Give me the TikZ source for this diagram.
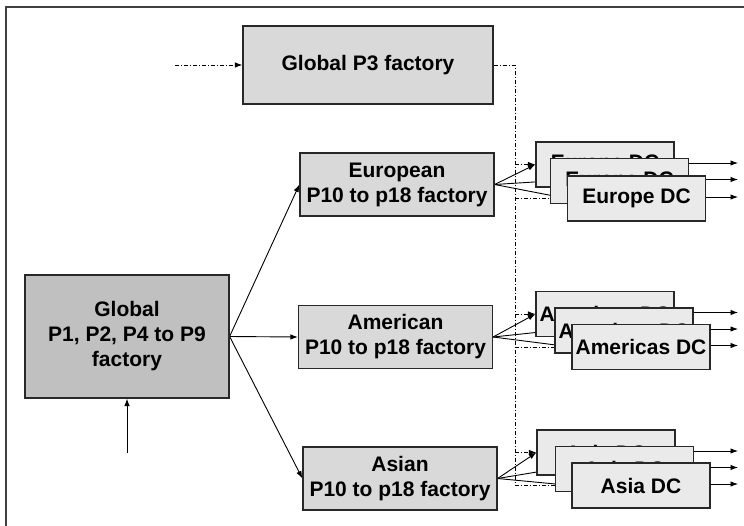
\documentclass[tikz,border=0pt]{standalone}
\usepackage{fontspec}
\setmainfont{Liberation Sans}
\usetikzlibrary{arrows.meta,backgrounds}
\definecolor{globfill}{RGB}{192,192,192}
\definecolor{factfill}{RGB}{217,217,217}
\definecolor{dcfill}{RGB}{234,234,234}
\definecolor{edge}{RGB}{40,40,40}
\tikzset{
  boxbase/.style={draw=edge, line width=1.2pt, inner sep=0pt, align=center,
    font=\fontsize{21}{25}\selectfont\bfseries},
  globbox/.style={boxbase, fill=globfill, minimum width=204pt, minimum height=123pt},
  factbox/.style={boxbase, fill=factfill, minimum width=194pt, minimum height=63pt},
  p3box/.style={boxbase, fill=factfill, minimum width=250pt, minimum height=78pt},
  dcbox/.style={boxbase, fill=dcfill, minimum width=138pt, minimum height=45pt},
  conn/.style={line width=0.9pt, -{Latex[length=7.5pt,width=5.5pt]}},
  dashdot/.style={line width=0.9pt, dash pattern=on 4pt off 2pt on 1pt off 2pt},
  dashconn/.style={dashdot, -{Latex[length=7.5pt,width=5.5pt]}},
  frame/.style={line width=1.5pt, draw=black!75}
}
\begin{document}
\begin{tikzpicture}[x=1pt,y=-1pt]
\useasboundingbox (0,0) rectangle (744,525);
% frame (top and left edges)
\coordinate (fbl) at (6,530);
\coordinate (ftl) at (6,7);
\coordinate (ftr) at (750,7);
\draw[frame] (fbl) -- (ftl) -- (ftr);

% boxes
\node[p3box] (p3) at (368,65) {Global P3 factory};
\node[globbox] (glob) at (127,336.5) {Global\\P1, P2, P4 to P9\\factory};
\node[factbox] (eur) at (397,184.5) {European\\P10 to p18 factory};
\node[factbox] (am) at (395.5,337) {American\\P10 to p18 factory};
\node[factbox] (as) at (400,478.5) {Asian\\P10 to p18 factory};

\node[dcbox] (eu1) at (605,164.5) {Europe DC};
\node[dcbox] (eu2) at (619.5,181) {Europe DC};
\node[dcbox] (eu3) at (636.5,198.5) {Europe DC};

\node[dcbox] (am1) at (605,314) {Americas DC};
\node[dcbox] (am2) at (624,330.5) {Americas DC};
\node[dcbox] (am3) at (641,347) {Americas DC};

\node[dcbox] (as1) at (606,452.5) {Asia DC};
\node[dcbox] (as2) at (624.5,469) {Asia DC};
\node[dcbox] (as3) at (641,485.5) {Asia DC};

% free-end coordinates
\coordinate (p3in) at (175,65);
\coordinate (globin) at (127,453);
\coordinate (outx) at (738,0);
\coordinate (vtop) at (515,65);
\coordinate (vbot) at (515,486);

\begin{scope}[on background layer]
  % input arrows
  \draw[dashconn] (p3in) -- (p3.west);
  \draw[conn] (globin) -- (glob.south);
  % global to regional factories
  \draw[conn] (glob.east) -- (eur.west);
  \draw[conn] (glob.east) -- (am.west);
  \draw[conn] (glob.east) -- (as.west);
  % regional factories to DCs
  \foreach \f/\a/\b/\c in {eur/eu1/eu2/eu3, am/am1/am2/am3, as/as1/as2/as3}{
    \draw[conn] (\f.east) -- (\a.west);
    \draw[conn] (\f.east) -- (\b.west);
    \draw[conn] (\f.east) -- (\c.west);
  }
  % P3 distribution (dash-dot)
  \draw[dashdot] (p3.east) -- (vtop) -- (vbot);
  \foreach \a/\c in {eu1/eu3, am1/am3, as1/as3}{
    \draw[dashconn] (vtop |- \a.west) -- (\a.west);
    \draw[dashconn] (vtop |- \c.west) -- (\c.west);
  }
  % outputs from DCs
  \foreach \d in {eu1,eu2,eu3,am1,am2,am3,as1,as2,as3}{
    \draw[conn] ([yshift=1.5pt]\d.east) -- ([yshift=1.5pt]\d.east -| outx);
  }
\end{scope}
\end{tikzpicture}
\end{document}
